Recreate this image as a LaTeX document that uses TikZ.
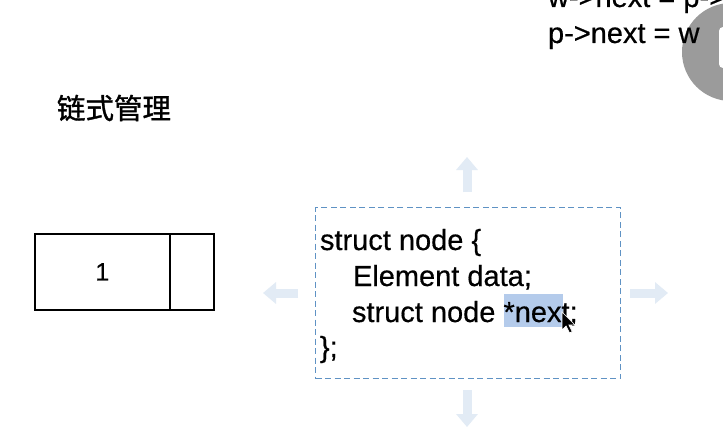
\documentclass[tikz,border=0pt]{standalone}
\usepackage{fontspec}
\setmainfont[FakeBold=0.5]{Liberation Sans}
\newfontfamily\cjk[FakeBold=1.2]{Noto Sans CJK SC}
\usetikzlibrary{arrows.meta}
\definecolor{hintblue}{HTML}{E2EBF5}
\definecolor{dashblue}{HTML}{5F92C4}
\definecolor{hilite}{HTML}{B4CBEB}
\definecolor{btngray}{HTML}{9B9B9B}
\begin{document}
\begin{tikzpicture}[x=1pt,y=-1pt,
  codeline/.style={font=\fontsize{29}{35}\selectfont, anchor=base west, inner sep=0pt, outer sep=0pt},
  cellbox/.style={draw, line width=1.7pt, inner sep=0pt, anchor=north west},
  hint/.style={line width=9pt, draw=hintblue, -{Triangle[width=21pt,length=13pt]}},
]
\useasboundingbox (0,0) rectangle (723,436);
\clip (0,0) rectangle (723,436);
\fill[white] (0,0) rectangle (723,436);

% overlay button at top right
\fill[btngray] (731,52) circle (49);
\fill[white, rounded corners=4pt] (719,27) rectangle (732,68);

% top-right text
\node[codeline] (l1) at (548,7) {w->next = p->};
\node[codeline] (l2) at (548,43) {p->next = w};

% title
\node[inner sep=0pt, font=\cjk\fontsize{28.5}{30}\selectfont] (title) at (114,108) {链式管理};

% linked list node
\node[cellbox, minimum width=135pt, minimum height=76pt] (data) at (34,233) {};
\node[cellbox, minimum width=44pt, minimum height=76pt] (ptr) at (169,233) {};
\node[inner sep=0pt, font=\fontsize{25}{30}\selectfont] (one) at (data.center) {1};

% faint move arrows
\coordinate (upT) at (467,192); \coordinate (upH) at (467,157);
\coordinate (dnT) at (467,390); \coordinate (dnH) at (467,427);
\coordinate (lfT) at (298,293); \coordinate (lfH) at (263,293);
\coordinate (rtT) at (630,293); \coordinate (rtH) at (668,293);
\draw[hint] (upT) -- (upH);
\draw[hint] (dnT) -- (dnH);
\draw[hint] (lfT) -- (lfH);
\draw[hint] (rtT) -- (rtH);

% selection box
\node[draw=dashblue, line width=1.3pt, dash pattern=on 6pt off 3.5pt, anchor=north west,
      minimum width=305pt, minimum height=171pt, inner sep=0pt] (sel) at (315,207) {};

% highlight behind *next
\fill[hilite] (504,294) rectangle (563,327);

% code text
\node[codeline] (c1) at (320,250) {struct node \{};
\node[codeline] (c2) at (353,286) {Element data;};
\node[codeline] (c3) at (352,322) {struct node *next;};
\node[codeline] (c4) at (320,357) {\};};

% mouse cursor
\filldraw[fill=black, draw=white, line width=0.7pt]
  (562,312) -- (562,330) -- (566,326) -- (569.5,333) -- (572.3,331.6) -- (569,325) -- (575,325) -- cycle;
\end{tikzpicture}
\end{document}
